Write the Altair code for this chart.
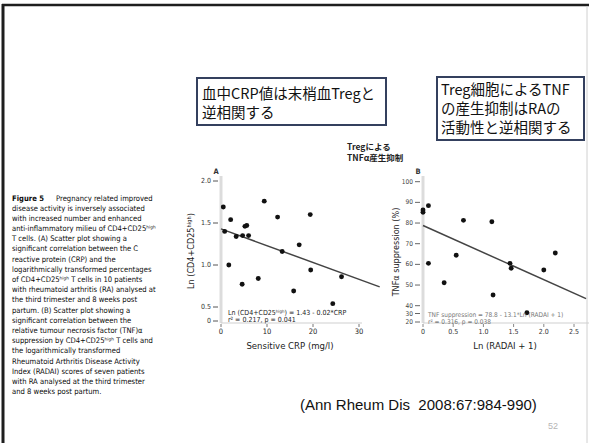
import altair as alt
import pandas as pd

# ---- Panel A: sensitive CRP vs Ln(CD4+CD25high) ----
crp = [0.5, 9.4, 2.1, 12.3, 19.4, 5.6, 5.2, 0.8, 3.3, 4.7,
       6.0, 17.0, 13.3, 1.7, 19.5, 8.1, 4.6, 15.8, 26.2, 24.3]
ln_treg = [1.69, 1.76, 1.54, 1.57, 1.60, 1.47, 1.46, 1.40, 1.34, 1.35,
           1.35, 1.24, 1.16, 1.00, 0.94, 0.84, 0.77, 0.69, 0.86, 0.54]
a_intercept, a_slope = 1.43, -0.02
a_fit_x = [0, 34.5]
a_yticks = [0, 0.5, 1.0, 1.5, 2.0]
a_ytick_labels = ["0", "0.5", "1.0", "1.5", "2.0"]
a_xticks = [0, 10, 20, 30]

# ---- Panel B: Ln(RADAI + 1) vs TNFα suppression ----
ln_radai = [0.0, 0.0, 0.09, 0.67, 1.14, 0.55, 0.09, 1.44, 1.46, 0.35,
            1.16, 2.19, 2.0, 1.72]
tnf_supp = [86.3, 85.2, 88.4, 81.3, 80.6, 64.4, 60.5, 60.5, 58.1, 51.1,
            45.2, 65.5, 57.3, 31.0]
b_intercept, b_slope = 78.8, -13.1
b_fit_x = [0, 2.7]
b_yticks = [20, 30, 40, 50, 60, 70, 80, 90, 100]
b_xticks = [0, 0.5, 1.0, 1.5, 2.0, 2.5]
b_xtick_labels = ["0", "0.5", "1.0", "1.5", "2.0", "2.5"]

caption_head = "Figure 5"
caption_first = "Pregnancy related improved"
caption_lines = [
    "disease activity is inversely associated",
    "with increased number and enhanced",
    "anti-inflammatory milieu of CD4+CD25ʰⁱᵍʰ",
    "T cells. (A) Scatter plot showing a",
    "significant correlation between the C",
    "reactive protein (CRP) and the",
    "logarithmically transformed percentages",
    "of CD4+CD25ʰⁱᵍʰ T cells in 10 patients",
    "with rheumatoid arthritis (RA) analysed at",
    "the third trimester and 8 weeks post",
    "partum. (B) Scatter plot showing a",
    "significant correlation between the",
    "relative tumour necrosis factor (TNF)α",
    "suppression by CD4+CD25ʰⁱᵍʰ T cells and",
    "the logarithmically transformed",
    "Rheumatoid Arthritis Disease Activity",
    "Index (RADAI) scores of seven patients",
    "with RA analysed at the third trimester",
    "and 8 weeks post partum.",
]
box1_lines = ["血中CRP値は末梢血Tregと", "逆相関する"]
box2_lines = ["Treg細胞によるTNF", "の産生抑制はRAの", "活動性と逆相関する"]
note_lines = ["Tregによる", "TNFα産生抑制"]
citation = "(Ann Rheum Dis\u00a0 2008:67:984-990)"
page_no = "52"

NARROW = "DejaVu Sans Condensed, Liberation Sans Narrow, sans-serif"
SANS = "Liberation Sans, Arial, sans-serif"
JP = "Noto Sans CJK JP, sans-serif"

one = pd.DataFrame({"k": [0]})


def text_at(text, x, y, size, font=NARROW, color="#222", align="left",
            weight="normal", angle=0, baseline="middle", line_height=None):
    kw = dict(text=text, fontSize=size, font=font, color=color, align=align,
              fontWeight=weight, angle=angle, baseline=baseline)
    if line_height is not None:
        kw["lineHeight"] = line_height
    return alt.Chart(one).mark_text(**kw).encode(x=alt.value(x), y=alt.value(y))


def hline(x1, x2, y, color, width):
    return alt.Chart(one).mark_rule(color=color, strokeWidth=width).encode(
        x=alt.value(x1), x2=alt.value(x2), y=alt.value(y))


def vline(x, y1, y2, color, width):
    return alt.Chart(one).mark_rule(color=color, strokeWidth=width).encode(
        x=alt.value(x), y=alt.value(y1), y2=alt.value(y2))


def box(x1, x2, y1, y2):
    return alt.Chart(one).mark_rect(fill="white", stroke="#34405e", strokeWidth=2).encode(
        x=alt.value(x1), x2=alt.value(x2), y=alt.value(y1), y2=alt.value(y2))


# ---- slide decoration ----
decor = [
    hline(2, 589, 5, "#1e1e1e", 2.5),
    vline(3, 4, 443, "#1e1e1e", 3),
    vline(587, 6, 443, "#d0d0d0", 1),
    box(197, 386, 78, 125),
    box(437, 584, 77, 140),
]
for i, line in enumerate(box1_lines):
    decor.append(text_at(line, 202, 94.5 + 19 * i, 14.5, font=JP, color="#111"))
for i, line in enumerate(box2_lines):
    decor.append(text_at(line, 441, 91 + 19 * i, 14.5, font=JP, color="#111"))
for i, line in enumerate(note_lines):
    decor.append(text_at(line, 347, 147 + 11 * i, 8.5, font=JP, color="#222", weight="bold"))
decor += [
    text_at(caption_head, 12, 199, 7.6, weight="bold", color="#0a0a0a"),
    text_at(caption_first, 56, 199, 7.6, color="#0a0a0a"),
    text_at(caption_lines, 12, 204.6, 7.6, color="#0a0a0a", baseline="top", line_height=10.2),
    text_at(citation, 300, 405, 15, font=SANS, color="#111"),
    text_at(page_no, 548, 426, 9, font=SANS, color="#b5b5b5"),
]

# ---- panel A (axis break between 0 and 0.5) ----
xA = alt.Scale(domain=[0, 30], range=[221, 359])
yA = alt.Scale(domain=[0, 0.5, 2.0], range=[321, 307, 181])

ptsA_df = pd.DataFrame({"x": crp, "y": ln_treg})
fitA_df = pd.DataFrame({"x": a_fit_x, "y": [a_intercept + a_slope * v for v in a_fit_x]})
ytA_df = pd.DataFrame({"y": a_yticks, "lab": a_ytick_labels})
xtA_df = pd.DataFrame({"x": a_xticks, "lab": [str(v) for v in a_xticks]})

panelA = alt.layer(
    alt.Chart(pd.DataFrame({"x": [0]})).mark_rule(color="#dcdcdc", strokeWidth=3).encode(
        x=alt.X("x:Q", scale=xA, axis=None), y=alt.value(176), y2=alt.value(323)),
    hline(221, 362, 323, "#cfcfcf", 1),
    alt.Chart(ytA_df).mark_rule(color="#555", strokeWidth=1).encode(
        x=alt.value(213), x2=alt.value(218), y=alt.Y("y:Q", scale=yA, axis=None)),
    alt.Chart(ytA_df).mark_text(align="right", baseline="middle", fontSize=7,
                                font=NARROW, color="#333").encode(
        x=alt.value(211), y=alt.Y("y:Q", scale=yA, axis=None), text="lab:N"),
    alt.Chart(xtA_df).mark_rule(color="#777", strokeWidth=1).encode(
        x=alt.X("x:Q", scale=xA, axis=None), y=alt.value(324), y2=alt.value(327)),
    alt.Chart(xtA_df).mark_text(align="center", baseline="middle", fontSize=7.5,
                                font=NARROW, color="#222").encode(
        x=alt.X("x:Q", scale=xA, axis=None), y=alt.value(332), text="lab:N"),
    alt.Chart(fitA_df).mark_line(color="#444", strokeWidth=1.5).encode(
        x=alt.X("x:Q", scale=xA, axis=None), y=alt.Y("y:Q", scale=yA, axis=None)),
    alt.Chart(ptsA_df).mark_circle(size=24, color="#111", opacity=1).encode(
        x=alt.X("x:Q", scale=xA, axis=None), y=alt.Y("y:Q", scale=yA, axis=None)),
)

decorA = [
    text_at("A", 216, 172, 7.5, color="#333", align="center", weight="bold"),
    text_at("Ln (CD4+CD25ʰⁱᵍʰ)", 191, 251, 9, color="#222", align="center", angle=270),
    text_at("Ln (CD4+CD25ʰⁱᵍʰ) = 1.43 - 0.02*CRP", 228, 313, 7, color="#222"),
    text_at("r² = 0.217, p = 0.041", 228, 320, 7, color="#222"),
    text_at("Sensitive CRP (mg/l)", 290, 346, 9.5, color="#222", align="center"),
]

# ---- panel B (axis break between 20 and 40) ----
xB = alt.Scale(domain=[0, 2.5], range=[423, 574])
yB = alt.Scale(domain=[20, 30, 40, 100], range=[322, 313.5, 305.7, 181.7])

ptsB_df = pd.DataFrame({"x": ln_radai, "y": tnf_supp})
fitB_df = pd.DataFrame({"x": b_fit_x, "y": [b_intercept + b_slope * v for v in b_fit_x]})
ytB_df = pd.DataFrame({"y": b_yticks, "lab": [str(v) for v in b_yticks]})
xtB_df = pd.DataFrame({"x": b_xticks, "lab": b_xtick_labels})

panelB = alt.layer(
    alt.Chart(pd.DataFrame({"x": [0]})).mark_rule(color="#dcdcdc", strokeWidth=3).encode(
        x=alt.X("x:Q", scale=xB, axis=None), y=alt.value(176), y2=alt.value(323)),
    hline(423, 589, 323, "#cfcfcf", 1),
    alt.Chart(ytB_df).mark_rule(color="#666", strokeWidth=1).encode(
        x=alt.value(415), x2=alt.value(420), y=alt.Y("y:Q", scale=yB, axis=None)),
    alt.Chart(ytB_df).mark_text(align="right", baseline="middle", fontSize=6.5,
                                font=NARROW, color="#444").encode(
        x=alt.value(413), y=alt.Y("y:Q", scale=yB, axis=None), text="lab:N"),
    alt.Chart(xtB_df).mark_rule(color="#888", strokeWidth=1).encode(
        x=alt.X("x:Q", scale=xB, axis=None), y=alt.value(324), y2=alt.value(327)),
    alt.Chart(xtB_df).mark_text(align="center", baseline="middle", fontSize=7,
                                font=NARROW, color="#333").encode(
        x=alt.X("x:Q", scale=xB, axis=None), y=alt.value(332), text="lab:N"),
    alt.Chart(fitB_df).mark_line(color="#444", strokeWidth=1.5).encode(
        x=alt.X("x:Q", scale=xB, axis=None), y=alt.Y("y:Q", scale=yB, axis=None)),
    alt.Chart(ptsB_df).mark_circle(size=24, color="#111", opacity=1).encode(
        x=alt.X("x:Q", scale=xB, axis=None), y=alt.Y("y:Q", scale=yB, axis=None)),
)

decorB = [
    text_at("B", 418, 172, 7.5, color="#333", align="center", weight="bold"),
    text_at("TNFα suppression (%)", 396, 252, 9, color="#222", align="center", angle=270),
    text_at("TNF suppression = 78.8 - 13.1*Ln (RADAI + 1)", 428, 315, 6.5, color="#777"),
    text_at("r² = 0.316, p = 0.038", 428, 321.5, 6.5, color="#777"),
    text_at("Ln (RADAI + 1)", 505, 346, 9.5, color="#222", align="center"),
]

chart = alt.layer(*decor, panelA, *decorA, panelB, *decorB).resolve_scale(
    x="independent", y="independent"
).properties(
    width=589, height=443,
    autosize=alt.AutoSizeParams(type="none"),
    padding=0,
    background="white",
).configure_view(stroke=None)

chart.save("out.html", embed_options={"renderer": "svg", "actions": False})
